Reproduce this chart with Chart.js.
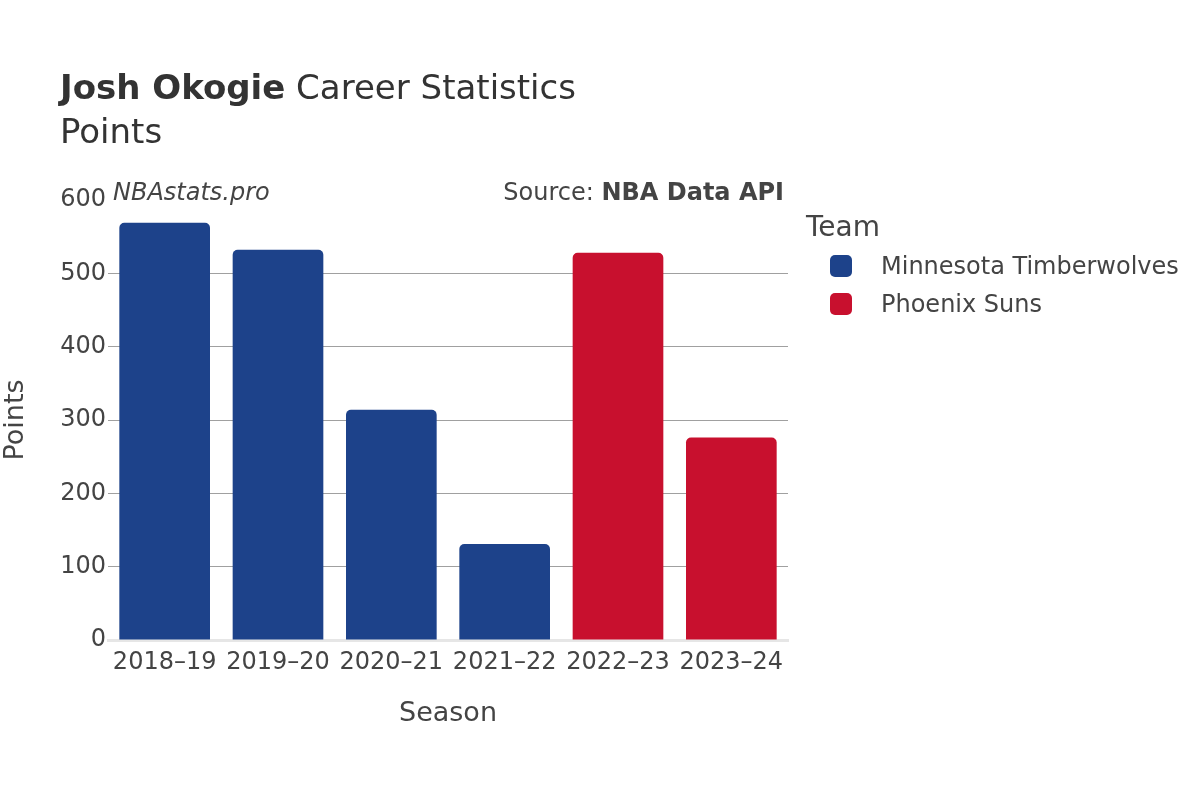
<!DOCTYPE html>
<html>
<head>
<meta charset="utf-8">
<script src="https://cdn.jsdelivr.net/npm/chart.js@4.4.0/dist/chart.umd.min.js"></script>
<style>
  body { margin: 0; background: #fff; font-family: "DejaVu Sans", sans-serif; color: #444; }
  #wrap { position: relative; width: 1200px; height: 800px; }
  canvas { position: absolute; left: 0; top: 0; }
  .txt { position: absolute; white-space: nowrap; }
  #titulo { left: 60px; top: 67px; font-size: 34px; color: #333; }
  #sub { left: 60px; top: 111px; font-size: 34px; color: #333; }
  #marca { left: 113px; top: 178px; font-size: 24px; font-style: italic; color: #444; }
  #fuente { right: 416px; top: 178px; font-size: 24px; color: #444; }
  #leyenda { left: 806px; top: 210px; font-size: 28px; color: #444; }
  .item { position: absolute; left: 24px; font-size: 24px; white-space: nowrap; }
  .caja { position: absolute; left: 0; top: 3px; width: 22px; height: 22px; border-radius: 5px; }
  .item span { position: absolute; left: 51px; top: 0; }
</style>
</head>
<body>
<div id="wrap">
  <canvas id="puntosChart" width="1200" height="800"></canvas>
  <div id="titulo" class="txt"><b>Josh Okogie</b> Career Statistics</div>
  <div id="sub" class="txt">Points</div>
  <div id="marca" class="txt">NBAstats.pro</div>
  <div id="fuente" class="txt">Source: <b>NBA Data API</b></div>
  <div id="leyenda" class="txt">Team</div>
</div>
<script>
const temporadas = ["2018–19", "2019–20", "2020–21", "2021–22", "2022–23", "2023–24"];
const equipos = ["Minnesota Timberwolves", "Phoenix Suns"];
const colores = ["#1d428a", "#c8102e"];
// puntos por temporada, null donde no jugó con ese equipo
const puntosTimberwolves = [569, 532, 314, 131, null, null];
const puntosSuns = [null, null, null, null, 528, 276];
const ticksY = [0, 100, 200, 300, 400, 500, 600];

// leyenda en html
const leyenda = document.getElementById('leyenda');
equipos.forEach((eq, i) => {
    const div = document.createElement('div');
    div.className = 'item';
    div.style.top = (42 + i * 38) + 'px';
    div.innerHTML = '<div class="caja" style="background:' + colores[i] + '"></div><span>' + eq + '</span>';
    leyenda.appendChild(div);
});

const ctx = document.getElementById('puntosChart').getContext('2d');

new Chart(ctx, {
    type: 'bar',
    data: {
        labels: temporadas,
        datasets: [
            {
                label: equipos[0],
                data: puntosTimberwolves,
                backgroundColor: colores[0],
                borderRadius: { topLeft: 5, topRight: 5 },
                borderSkipped: 'bottom',
                barPercentage: 0.8,
                categoryPercentage: 1
            },
            {
                label: equipos[1],
                data: puntosSuns,
                backgroundColor: colores[1],
                borderRadius: { topLeft: 5, topRight: 5 },
                borderSkipped: 'bottom',
                barPercentage: 0.8,
                categoryPercentage: 1
            }
        ]
    },
    options: {
        responsive: false,
        animation: false,
        layout: {
            padding: { top: 200, right: 412, bottom: 50, left: 0 }
        },
        plugins: {
            legend: { display: false },
            tooltip: { enabled: false }
        },
        scales: {
            x: {
                stacked: true,
                grid: { display: false },
                border: { color: '#e6e6e6', width: 3 },
                ticks: { color: '#444', font: { family: 'DejaVu Sans', size: 24 }, padding: 0 },
                title: {
                    display: true,
                    text: 'Season',
                    color: '#444',
                    font: { family: 'DejaVu Sans', size: 27 },
                    padding: { top: 0, bottom: 20 }
                },
                afterFit: (scale) => { scale.height = 110; }
            },
            y: {
                stacked: true,
                min: 0,
                max: 600,
                afterBuildTicks: (scale) => { scale.ticks = ticksY.map(v => ({ value: v })); },
                grid: {
                    color: (c) => c.tick && (c.tick.value === 0 || c.tick.value === 600) ? 'rgba(0,0,0,0)' : '#a0a0a0',
                    lineWidth: 1,
                    drawTicks: false
                },
                border: { display: false },
                ticks: { color: '#444', font: { family: 'DejaVu Sans', size: 24 }, padding: 2 },
                title: {
                    display: true,
                    text: 'Points',
                    color: '#444',
                    font: { family: 'DejaVu Sans', size: 27 },
                    padding: { top: 0, bottom: 0 }
                },
                afterFit: (scale) => { scale.width = 108; }
            }
        }
    }
});
</script>
</body>
</html>
